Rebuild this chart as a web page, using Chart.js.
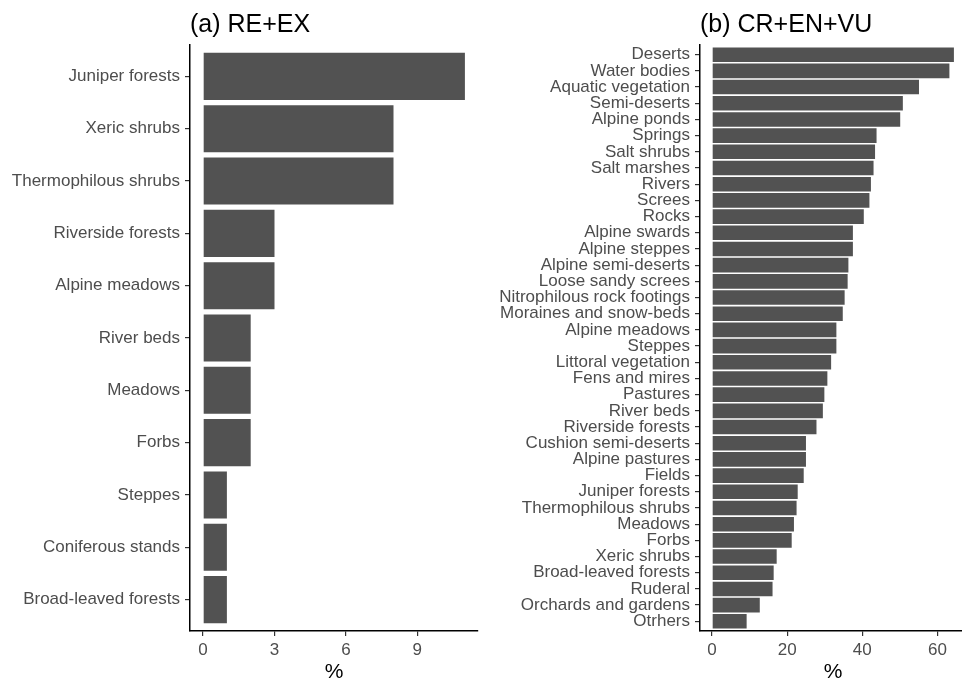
<!DOCTYPE html>
<html>
<head>
<meta charset="utf-8">
<script src="https://cdn.jsdelivr.net/npm/chart.js@4/dist/chart.umd.min.js"></script>
<style>
  html, body { margin: 0; padding: 0; background: #fff; overflow: hidden; }
  #wrap { position: relative; width: 962px; height: 682px; overflow: hidden; }
  .panel { position: absolute; top: 0; height: 682px; }
  #pa { left: 0; width: 480px; }
  #pb { left: 480px; width: 486px; }
</style>
</head>
<body>
<div id="wrap">
  <div class="panel" id="pa"><canvas id="ca"></canvas></div>
  <div class="panel" id="pb"><canvas id="cb"></canvas></div>
</div>
<script>
// (a) Regionally extinct + extinct, share of species per habitat (%)
const habitatsA = [
  "Juniper forests", "Xeric shrubs", "Thermophilous shrubs", "Riverside forests",
  "Alpine meadows", "River beds", "Meadows", "Forbs", "Steppes",
  "Coniferous stands", "Broad-leaved forests"
];
const valuesA = [11, 8, 8, 3, 3, 2, 2, 2, 1, 1, 1];
const ticksA = [0, 3, 6, 9];

// (b) Critically endangered + endangered + vulnerable (%)
const habitatsB = [
  "Deserts", "Water bodies", "Aquatic vegetation", "Semi-deserts", "Alpine ponds",
  "Springs", "Salt shrubs", "Salt marshes", "Rivers", "Screes", "Rocks",
  "Alpine swards", "Alpine steppes", "Alpine semi-deserts", "Loose sandy screes",
  "Nitrophilous rock footings", "Moraines and snow-beds", "Alpine meadows", "Steppes",
  "Littoral vegetation", "Fens and mires", "Pastures", "River beds", "Riverside forests",
  "Cushion semi-deserts", "Alpine pastures", "Fields", "Juniper forests",
  "Thermophilous shrubs", "Meadows", "Forbs", "Xeric shrubs", "Broad-leaved forests",
  "Ruderal", "Orchards and gardens", "Otrhers"
];
const valuesB = [
  64.4, 63.2, 55.1, 50.8, 50.1,
  43.8, 43.4, 43.0, 42.3, 41.9, 40.4,
  37.5, 37.5, 36.3, 36.1,
  35.3, 34.8, 33.1, 33.1,
  31.7, 30.7, 29.9, 29.5, 27.8,
  25.0, 25.0, 24.4, 22.8,
  22.5, 21.8, 21.2, 17.2, 16.4,
  16.1, 12.7, 9.2
];
const ticksB = [0, 20, 40, 60];

const FONT = '"Liberation Sans", Arial, Helvetica, sans-serif';
const BAR = '#525252';
const TEXT = '#4d4d4d';

// Panel title drawn flush with the left edge of the plotting area
const panelTitle = {
  id: 'panelTitle',
  afterDraw(chart, args, opts) {
    const ctx = chart.ctx;
    ctx.save();
    ctx.font = '25px ' + FONT;
    ctx.fillStyle = '#000';
    ctx.textAlign = 'left';
    ctx.textBaseline = 'alphabetic';
    ctx.fillText(opts.text, chart.chartArea.left, 32);
    ctx.restore();
  }
};

function makePanel(canvasId, title, labels, values, tickValues, xMin, xMax, yAxisWidth, padRight) {
  return new Chart(document.getElementById(canvasId), {
    type: 'bar',
    data: {
      labels: labels,
      datasets: [{
        data: values,
        backgroundColor: BAR,
        borderWidth: 0,
        categoryPercentage: 0.9,
        barPercentage: 1.0
      }]
    },
    plugins: [panelTitle],
    options: {
      indexAxis: 'y',
      responsive: true,
      maintainAspectRatio: false,
      animation: false,
      devicePixelRatio: 1,
      layout: { padding: { top: 45, right: padRight, bottom: 0, left: 0 } },
      plugins: {
        legend: { display: false },
        tooltip: { enabled: false },
        panelTitle: { text: title }
      },
      scales: {
        x: {
          type: 'linear',
          min: xMin,
          max: xMax,
          afterBuildTicks(scale) {
            scale.ticks = tickValues.map(v => ({ value: v }));
          },
          afterFit(scale) { scale.height = 51; },
          grid: {
            drawOnChartArea: false,
            drawTicks: true,
            tickLength: 5,
            tickColor: '#333',
            lineWidth: 1.2
          },
          border: { display: true, color: '#000', width: 1.5 },
          ticks: {
            font: { family: FONT, size: 17 },
            color: TEXT,
            padding: 4,
            maxRotation: 0
          },
          title: {
            display: true,
            text: '%',
            font: { family: FONT, size: 21 },
            color: '#000',
            padding: { top: 0, bottom: -3 }
          }
        },
        y: {
          type: 'category',
          offset: true,
          // discrete axis padded by 0.6 of a category at each end
          afterBuildTicks(scale) {
            scale._startValue = scale.min - 0.6;
            scale._valueRange = scale.max - scale.min + 1.2;
          },
          afterFit(scale) { scale.width = yAxisWidth; },
          grid: {
            offset: false,
            drawOnChartArea: false,
            drawTicks: true,
            tickLength: 5,
            tickColor: '#333',
            lineWidth: 1.2
          },
          border: { display: true, color: '#000', width: 1.5 },
          ticks: {
            font: { family: FONT, size: 17 },
            color: TEXT,
            padding: 5,
            autoSkip: false
          }
        }
      }
    }
  });
}

makePanel('ca', '(a) RE+EX', habitatsA, valuesA, ticksA, -0.55, 11.55, 190, 2);
makePanel('cb', '(b) CR+EN+VU', habitatsB, valuesB, ticksB, -3.22, 67.62, 220, 0);
</script>
</body>
</html>
